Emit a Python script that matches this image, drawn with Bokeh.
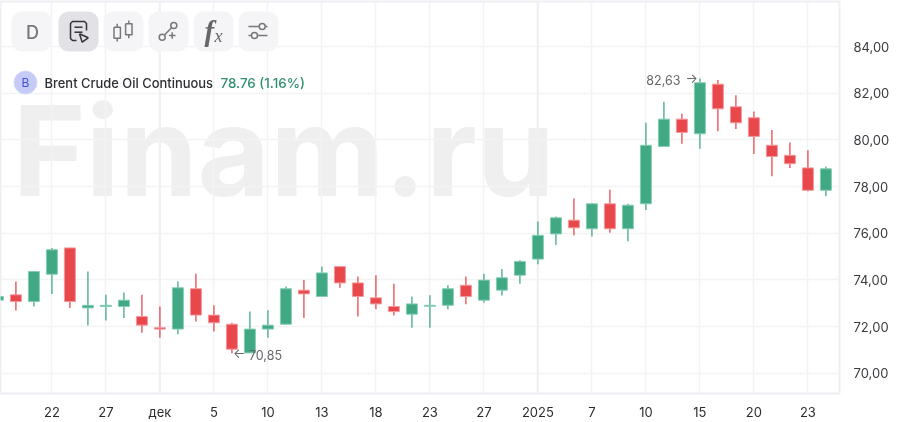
from bokeh.plotting import figure
from bokeh.models import ColumnDataSource, FixedTicker, Label, BoxAnnotation, Span, Range1d
from bokeh.embed import file_html
from bokeh.resources import INLINE

opens  = [73.13,73.36,73.07,74.24,75.37,72.80,72.86,72.86,72.43,71.95,71.89,73.62,72.49,72.10,70.87,71.89,72.10,73.56,73.29,74.57,73.87,73.23,72.86,72.53,72.87,72.91,73.77,73.13,73.56,74.20,74.89,75.97,76.56,76.19,77.26,76.19,77.26,79.72,80.89,80.26,82.39,81.42,80.95,79.77,79.34,78.80,77.84]
highs  = [73.35,73.93,74.36,75.37,75.37,74.36,73.36,73.46,73.36,72.86,73.93,74.26,72.91,72.16,72.64,72.70,73.72,73.99,74.57,74.57,74.14,74.20,73.83,73.29,73.34,73.77,74.14,74.26,74.47,74.84,76.50,76.72,77.49,77.30,77.86,77.26,80.73,81.64,81.12,82.63,82.57,81.91,81.22,80.42,79.89,79.56,78.86]
lows   = [73.10,72.69,72.86,73.40,72.80,72.04,72.26,72.37,71.73,71.52,71.67,72.22,71.79,70.85,70.87,71.52,72.10,72.37,73.29,73.66,72.43,72.74,72.47,71.95,71.95,72.74,72.96,73.02,73.33,73.83,74.67,75.49,75.91,75.86,76.02,75.66,76.99,79.72,79.83,79.62,80.37,80.47,79.40,78.44,78.80,77.80,77.59]
closes = [73.29,73.07,74.36,75.29,73.07,72.91,72.91,73.13,72.06,71.89,73.66,72.49,72.16,71.03,71.89,72.06,73.62,73.40,74.30,73.87,73.29,72.97,72.64,72.97,72.91,73.62,73.29,73.99,74.09,74.79,75.91,76.66,76.23,77.26,76.19,77.20,79.77,80.89,80.32,82.45,81.33,80.73,80.15,79.29,78.98,77.84,78.76]
x_tick_index  = [3,6,9,12,15,18,21,24,27,30,33,36,39,42,45]
x_tick_labels = ["22","27","дек","5","10","13","18","23","27","2025","7","10","15","20","23"]
y_ticks       = [70,72,74,76,78,80,82,84]
y_tick_labels = ["70,00","72,00","74,00","76,00","78,00","80,00","82,00","84,00"]
max_label, max_index, max_value = "82,63", 39, 82.63
min_label, min_index, min_value = "70,85", 13, 70.85
instrument = "Brent Crude Oil Continuous"
quote = "78.76 (1.16%)"
watermark = "Finam.ru"

GREEN, GREEN_EDGE = "#41a884", "#86cdb4"
RED, RED_EDGE = "#e8474c", "#f29a9c"
FONT = "Inter"
MEDIUM = "Inter Medium"

# pixel <-> data helpers for the interface chrome (not for the candles)
PX_X, PX_Y = 18.0, 23.33
def dx(px): return (px + 2.6) / PX_X
def dy(py): return 70 + (372.7 - py) / PX_Y

p = figure(width=898, height=422, output_backend="svg", toolbar_location=None,
           x_range=Range1d(dx(0), dx(839)), y_range=Range1d(dy(393), dy(1)),
           y_axis_location="right", min_border_left=0, min_border_top=1,
           min_border_right=59, min_border_bottom=29,
           background_fill_color="white", border_fill_color="white")
p.styles = {"position": "fixed", "left": "0", "top": "0"}
p.outline_line_color = "#eeeef3"
p.outline_line_width = 2

x_axis = p.xaxis[0]

for axis, ticks, labels in ((x_axis, x_tick_index, x_tick_labels), (p.yaxis[0], y_ticks, y_tick_labels)):
    axis.ticker = FixedTicker(ticks=ticks)
    axis.major_label_overrides = dict(zip(ticks, labels))
    axis.major_tick_line_color = None
    axis.minor_tick_line_color = None
    axis.major_tick_out = 0
    axis.major_tick_in = 0
    axis.minor_tick_out = 0
    axis.minor_tick_in = 0
    axis.axis_line_color = None
    axis.major_label_text_font = FONT
    axis.major_label_text_font_size = "13px"
    axis.major_label_text_color = "#3a3a3f"
    axis.major_label_standoff = 14
x_axis.major_label_standoff = 10
x_axis.major_label_text_color = "#2c2c30"

for grid in (p.xgrid[0], p.ygrid[0]):
    grid.grid_line_color = "#f3f3f6"
    grid.grid_line_width = 1.5
p.xgrid[0].ticker = FixedTicker(ticks=x_tick_index)
p.ygrid[0].ticker = FixedTicker(ticks=y_ticks)
for tick, label in zip(x_tick_index, x_tick_labels):
    if not label.isdigit() or len(label) == 4:
        p.add_layout(Span(location=tick, dimension="height", line_color="#f0f0f3", line_width=2, level="underlay"))

p.add_layout(Label(x=dx(12), y=dy(150), text=watermark, text_font=FONT, text_font_style="bold",
                   text_font_size="125px", text_color="#efeff0", text_baseline="middle", level="image"))

# candles
idx = list(range(len(opens)))
def rows(up):
    keep = [i for i in idx if (closes[i] >= opens[i]) == up]
    return ColumnDataSource(dict(
        x=keep,
        hi=[highs[i] for i in keep], lo=[lows[i] for i in keep],
        top=[max(opens[i], closes[i]) for i in keep],
        bot=[min(opens[i], closes[i]) for i in keep]))
for up, fill, edge in ((True, GREEN, GREEN_EDGE), (False, RED, RED_EDGE)):
    src = rows(up)
    p.segment("x", "hi", "x", "lo", source=src, line_color=fill, line_alpha=0.8, line_width=1.6)
    p.vbar(x="x", top="top", bottom="bot", width=11.0 / PX_X, source=src,
           fill_color=fill, line_color=edge, line_width=1)

# extreme labels
p.text([max_index], [max_value], text=[max_label], text_font={"value": FONT}, text_font_size={"value": "12.5px"},
       text_color="#66666b", text_align="right", text_baseline="middle", x_offset=-19.5, y_offset=1)
p.text([max_index], [max_value], text=["→"], text_font={"value": FONT}, text_font_size={"value": "13px"},
       text_color="#66666b", text_align="right", text_baseline="middle", x_offset=-2, y_offset=-1)
p.text([min_index], [min_value], text=[min_label], text_font={"value": FONT}, text_font_size={"value": "12.5px"},
       text_color="#66666b", text_align="left", text_baseline="middle", x_offset=17, y_offset=1.5)
p.text([min_index], [min_value], text=["←"], text_font={"value": FONT}, text_font_size={"value": "13px"},
       text_color="#66666b", text_align="left", text_baseline="middle", x_offset=1, y_offset=0)

# toolbar chrome
for left, selected in ((11, False), (58, True), (103, False), (148, False), (193, False), (238, False)):
    p.add_layout(BoxAnnotation(left=dx(left), right=dx(left + 40), top=dy(11), bottom=dy(51),
                               fill_color="#e2e2e6" if selected else "#f5f5f7", fill_alpha=1,
                               line_color=None, border_radius=10, level="annotation"))

def chrome_line(points, color, width=1.5):
    p.line([dx(a) for a, b in points], [dy(b) for a, b in points], line_color=color,
           line_width=width, level="overlay")
def chrome_text(x, y, text, size, color, font=FONT, style="normal", align="left"):
    p.add_layout(Label(x=dx(x), y=dy(y), text=text, text_font=font, text_font_size=size, text_color=color,
                       text_font_style=style, text_baseline="middle", text_align=align, level="overlay"))

chrome_text(32, 31.5, "D", "18px", "#77777c", font=MEDIUM, align="center")
ICON_DARK, ICON = "#333338", "#77777c"
chrome_line([(76, 40), (72, 40), (70, 38), (70, 23), (72, 21), (84, 21), (86, 23), (86, 30)], ICON_DARK)
chrome_line([(74, 26.7), (82, 26.7)], ICON_DARK)
chrome_line([(74, 31.7), (82, 31.7)], ICON_DARK)
chrome_line([(79, 33.3), (87.7, 37.3), (81.7, 41.7), (79, 33.3)], ICON_DARK)
for cx, y0, y1, w0, w1 in ((116.7, 26.7, 37.7, 23.3, 41), (128.3, 23.3, 34.3, 20, 37.7)):
    chrome_line([(cx - 3.2, y0), (cx + 3.2, y0), (cx + 3.2, y1), (cx - 3.2, y1), (cx - 3.2, y0)], ICON)
    chrome_line([(cx, w0), (cx, y0)], ICON)
    chrome_line([(cx, y1), (cx, w1)], ICON)
chrome_line([(163.5, 35), (171.5, 26.7)], ICON)
chrome_line([(168.5, 35), (175, 35)], ICON)
chrome_line([(171.7, 31.7), (171.7, 38.3)], ICON)
chrome_text(204, 30, "f", "29px", "#66666b", font="Liberation Serif", style="bold italic")
chrome_text(214, 35.5, "x", "18px", "#66666b", font="Liberation Serif", style="italic")
chrome_line([(248, 26), (267, 26)], ICON)
chrome_line([(248, 35), (267, 35)], ICON)
p.scatter([dx(a) for a in (161.7, 173.3, 261.7, 254)], [dy(b) for b in (36.7, 25, 26, 35)], size=6,
          fill_color="#f5f5f7", line_color=ICON, line_width=1.5, level="overlay")

# instrument legend
p.scatter([dx(25)], [dy(82)], size=23, fill_color="#c5cbf6", line_color="#d5d9f8", line_width=1, level="overlay")
chrome_text(25, 82, "B", "12px", "#4353d6", align="center")
chrome_text(44, 82.5, instrument, "12.95px", "#2e2e33", font=MEDIUM)
chrome_text(220, 82.5, quote, "13.4px", "#2f8f6e", font=MEDIUM)

open("out.html", "w").write(file_html(p, INLINE))
